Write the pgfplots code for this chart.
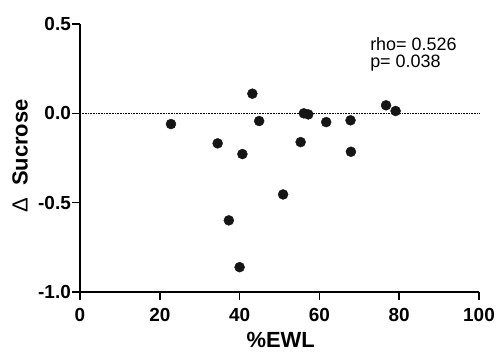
\documentclass[border=0pt]{standalone}
\usepackage{pgfplots}
\pgfplotsset{compat=1.18}
\usepackage{fontspec}
\setmainfont{Liberation Sans}
\definecolor{pt}{HTML}{151515}
\begin{document}
\begin{tikzpicture}
\begin{axis}[
  scale only axis,
  width=399bp, height=268bp,
  xmin=0, xmax=100, ymin=-1.0, ymax=0.5,
  axis x line*=bottom, axis y line*=left,
  axis line style={line width=1.6pt, black, -},
  xtick={0,20,40,60,80,100},
  ytick={-1.0,-0.5,0,0.5},
  yticklabels={-1.0,-0.5,0.0,0.5},
  tick align=outside,
  major tick length=8bp,
  tick style={line width=1.6pt, black},
  minor tick num=0,
  /pgf/number format/assume math mode=true,
  ticklabel style={font=\bfseries\fontsize{19}{20}\selectfont, inner sep=1bp},
  xticklabel style={yshift=-7bp},
  yticklabel style={xshift=0bp},
  xlabel={\%EWL},
  ylabel={{\mdseries Δ}\ \ Sucrose},
  label style={font=\bfseries\fontsize{22}{24}\selectfont},
  xlabel style={at={(axis description cs:0.503,-0.18)}, anchor=center},
  ylabel style={at={(axis description cs:-0.150,0.507)}, anchor=center},
  clip=false,
]
\addplot[black, line width=0.6pt, densely dotted] coordinates {(0,0) (100,0)};
\addplot[only marks, mark=*, mark size=5bp, mark options={fill=pt, draw=pt}] coordinates {
(22.8,-0.060)
(34.5,-0.168)
(43.2,0.110)
(44.9,-0.043)
(40.7,-0.228)
(37.3,-0.599)
(40.0,-0.861)
(50.9,-0.454)
(55.3,-0.161)
(56.1,0.000)
(57.2,-0.006)
(61.7,-0.049)
(67.8,-0.039)
(67.9,-0.215)
(76.7,0.045)
(79.1,0.013)
};
\node[anchor=base west, font=\fontsize{18}{20}\selectfont, inner sep=0pt] at (axis cs:72.7,0.354) {rho= 0.526};
\node[anchor=base west, font=\fontsize{18}{20}\selectfont, inner sep=0pt] at (axis cs:72.7,0.259) {p= 0.038};
\end{axis}
\pgfresetboundingbox
\path (-80bp,-60bp) rectangle (417bp,292bp);
\end{tikzpicture}
\end{document}
